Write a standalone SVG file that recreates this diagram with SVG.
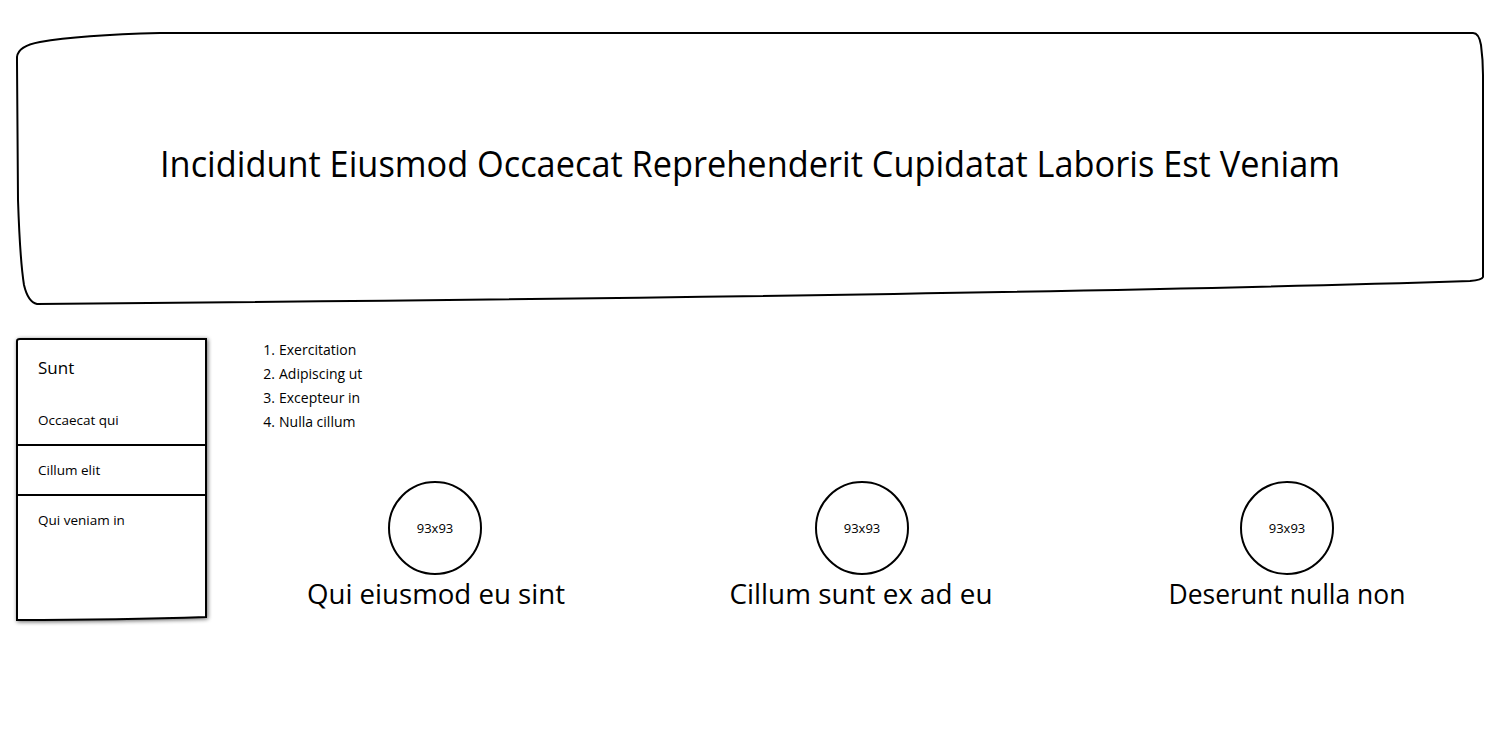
<svg xmlns="http://www.w3.org/2000/svg" width="1500" height="752" viewBox="0 0 1500 752">
<defs>
<style>
.t{font-family:"Open Sans","Liberation Sans",sans-serif;fill:#000}
.s{fill:#fff;stroke:#000;stroke-width:2}
</style>
<filter id="sh" x="-10%" y="-10%" width="120%" height="120%">
<feGaussianBlur in="SourceAlpha" stdDeviation="2"/>
<feOffset dx="1" dy="1"/>
<feComponentTransfer><feFuncA type="linear" slope="0.6"/></feComponentTransfer>
<feMerge><feMergeNode/><feMergeNode in="SourceGraphic"/></feMerge>
</filter>
</defs>
<rect width="1500" height="752" fill="#fff"/>
<g id="header">
<path class="s" d="M17,57 Q18,46 40,42 Q80,35 160,33 L1473,33 Q1479,33 1481,45 Q1483,60 1483,75 L1483,277 Q1482,280 1470,281 Q1000,296 37,304 Q28,302 24,285 Q20,260 18,200 L17,62 Z"/>
<text class="t" x="750" y="177" font-size="36" text-anchor="middle" textLength="1180" lengthAdjust="spacingAndGlyphs">Incididunt Eiusmod Occaecat Reprehenderit Cupidatat Laboris Est Veniam</text>
</g>
<g id="panel">
<path class="s" filter="url(#sh)" d="M17,341 Q17,339 20,339 L206,339 L206,617 Q120,620 17,620 Z" stroke-width="2.5"/>
<line x1="17" y1="445" x2="206" y2="445" stroke="#000" stroke-width="2"/>
<line x1="17" y1="495" x2="206" y2="495" stroke="#000" stroke-width="2"/>
<text class="t" x="38" y="374" font-size="17">Sunt</text>
<text class="t" x="38" y="425" font-size="13.5">Occaecat qui</text>
<text class="t" x="38" y="475" font-size="13.5">Cillum elit</text>
<text class="t" x="38" y="525" font-size="13.5">Qui veniam in</text>
</g>
<g id="list" font-size="14">
<text class="t" x="275" y="355" text-anchor="end">1.</text><text class="t" x="279" y="355">Exercitation</text>
<text class="t" x="275" y="379" text-anchor="end">2.</text><text class="t" x="279" y="379">Adipiscing ut</text>
<text class="t" x="275" y="403" text-anchor="end">3.</text><text class="t" x="279" y="403">Excepteur in</text>
<text class="t" x="275" y="427" text-anchor="end">4.</text><text class="t" x="279" y="427">Nulla cillum</text>
</g>
<g id="item1">
<circle class="s" cx="435" cy="528" r="46"/>
<text class="t" x="435" y="533" font-size="13" text-anchor="middle">93x93</text>
<text class="t" x="436" y="604" font-size="27" text-anchor="middle" textLength="258" lengthAdjust="spacingAndGlyphs">Qui eiusmod eu sint</text>
</g>
<g id="item2">
<circle class="s" cx="862" cy="528" r="46"/>
<text class="t" x="862" y="533" font-size="13" text-anchor="middle">93x93</text>
<text class="t" x="861" y="604" font-size="27" text-anchor="middle" textLength="263" lengthAdjust="spacingAndGlyphs">Cillum sunt ex ad eu</text>
</g>
<g id="item3">
<circle class="s" cx="1287" cy="528" r="46"/>
<text class="t" x="1287" y="533" font-size="13" text-anchor="middle">93x93</text>
<text class="t" x="1287" y="604" font-size="27" text-anchor="middle" textLength="237" lengthAdjust="spacingAndGlyphs">Deserunt nulla non</text>
</g>
<g id="connectors"/>
</svg>
